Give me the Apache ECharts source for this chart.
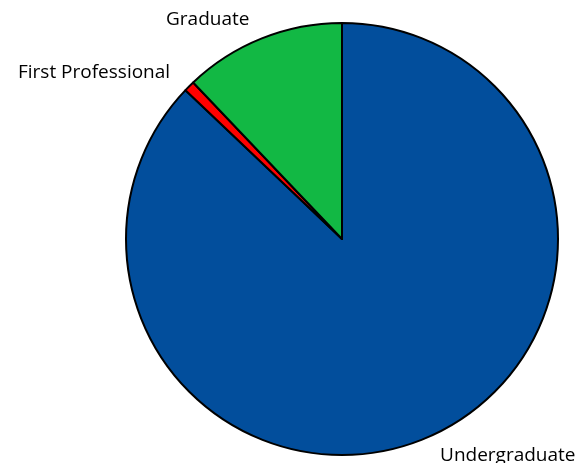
<!DOCTYPE html>
<html>
<head>
<meta charset="utf-8">
<script src="https://cdn.jsdelivr.net/npm/echarts@6/dist/echarts.min.js"></script>
<style>
html,body{margin:0;padding:0;background:#fff;}
#chart{width:582px;height:463px;}
</style>
</head>
<body>
<div id="chart"></div>
<script>
const categories = ["Undergraduate", "First Professional", "Graduate"];
const values = [87.1, 0.8, 12.1];
const colors = ["#024E9C", "#FF0000", "#12B844"];

const chart = echarts.init(document.getElementById('chart'), null, {renderer: 'canvas'});
chart.setOption({
  animation: false,
  backgroundColor: '#ffffff',
  series: [{
    type: 'pie',
    center: [342, 239],
    radius: [0, 216],
    startAngle: 90,
    clockwise: true,
    avoidLabelOverlap: false,
    data: categories.map((c, i) => ({name: c, value: values[i], itemStyle: {color: colors[i]}})),
    itemStyle: {borderColor: '#000', borderWidth: 2},
    label: {
      show: true,
      position: 'outside',
      formatter: '{b}',
      color: '#000',
      fontFamily: 'Open Sans',
      fontSize: 19,
      distanceToLabelLine: 5
    },
    labelLine: {show: false, length: 20, length2: 0},
    emphasis: {disabled: true}
  }]
});
</script>
</body>
</html>
